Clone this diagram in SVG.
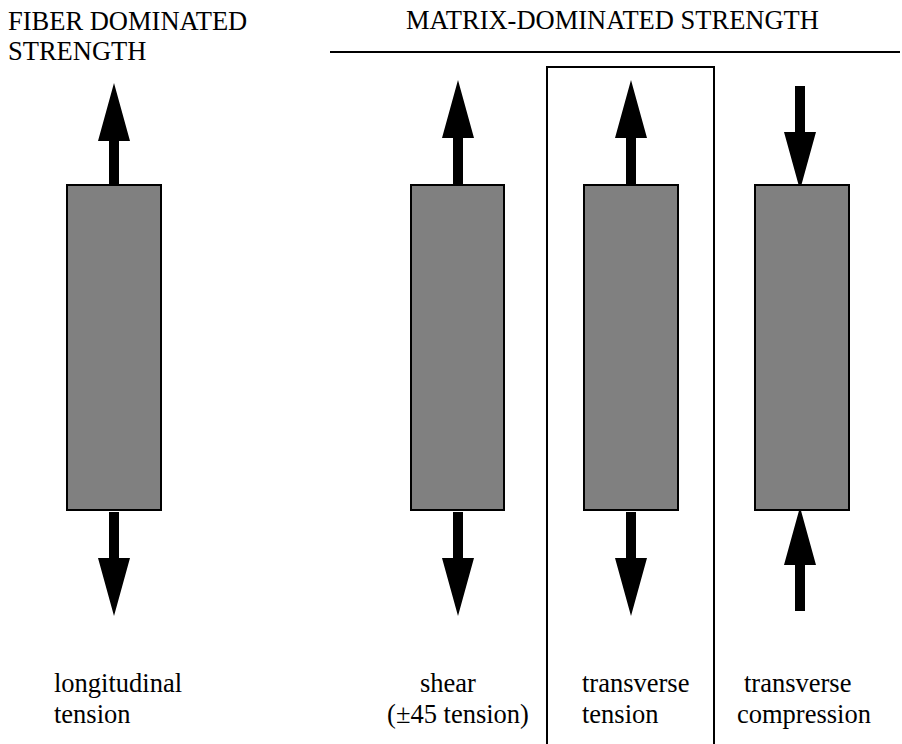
<svg xmlns="http://www.w3.org/2000/svg" width="902" height="744" viewBox="0 0 902 744">
<style>
text{font-family:'Liberation Serif','DejaVu Serif','Times New Roman',serif;font-size:26.5px;fill:#000}
.bar{fill:#808080;stroke:#000;stroke-width:2}
.arr{fill:#000;stroke:none}
</style>
<defs>
<path id="up" class="arr" d="M0,0 L16,58 L5,58 L5,104 L-5,104 L-5,58 L-16,58 Z"/>
<path id="down" class="arr" d="M0,0 L16,-58 L5,-58 L5,-104 L-5,-104 L-5,-58 L-16,-58 Z"/>
</defs>
<rect width="902" height="744" fill="#fff"/>
<g id="headers" font-family="Liberation Serif, serif">
<text x="8" y="30">FIBER DOMINATED</text>
<text x="8" y="60">STRENGTH</text>
<text x="406" y="29">MATRIX-DOMINATED STRENGTH</text>
<line x1="330" y1="52" x2="900" y2="52" stroke="#000" stroke-width="2"/>
</g>
<g id="highlight-box">
<rect x="547" y="67" width="167" height="700" fill="none" stroke="#000" stroke-width="2"/>
</g>
<g id="connectors">
<use href="#up" x="114" y="83"/>
<use href="#down" x="114" y="616"/>
<use href="#up" x="458" y="80"/>
<use href="#down" x="458" y="616"/>
<use href="#up" x="631" y="80"/>
<use href="#down" x="631" y="616"/>
<use href="#down" x="800" y="190"/>
<use href="#up" x="800" y="507"/>
</g>
<g id="longitudinal-tension" font-family="Liberation Serif, serif">
<rect class="bar" x="67" y="185" width="94" height="325"/>
<text x="54" y="692">longitudinal</text>
<text x="54" y="723">tension</text>
</g>
<g id="shear" font-family="Liberation Serif, serif">
<rect class="bar" x="411" y="185" width="93" height="325"/>
<text x="448" y="692" text-anchor="middle">shear</text>
<text x="458" y="723" text-anchor="middle">(±45 tension)</text>
</g>
<g id="transverse-tension" font-family="Liberation Serif, serif">
<rect class="bar" x="584" y="185" width="94" height="325"/>
<text x="582" y="692">transverse</text>
<text x="582" y="723">tension</text>
</g>
<g id="transverse-compression" font-family="Liberation Serif, serif">
<rect class="bar" x="755" y="185" width="94" height="325"/>
<text x="744" y="692">transverse</text>
<text x="737" y="723">compression</text>
</g>
</svg>
